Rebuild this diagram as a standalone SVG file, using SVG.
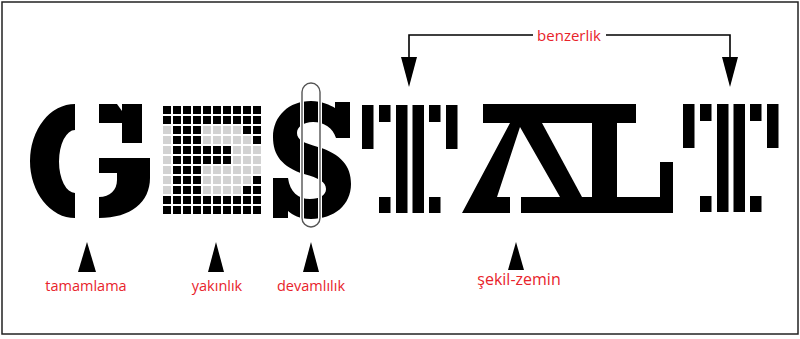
<svg xmlns="http://www.w3.org/2000/svg" xmlns:xlink="http://www.w3.org/1999/xlink" width="800" height="339" viewBox="0 0 800 339">
<style>
.lbl{font-family:"Open Sans","Liberation Sans",sans-serif;font-size:14.5px;fill:#e8232b;text-anchor:middle}
.blk{fill:#000}
.wht{fill:#fff}
.ln{fill:none;stroke:#000;stroke-width:1.6}
</style>
<defs>
<pattern id="pg" patternUnits="userSpaceOnUse" x="163" y="106" width="10" height="10"><rect width="8" height="8" fill="#d2d2d2"/></pattern>
<pattern id="pk" patternUnits="userSpaceOnUse" x="163" y="106" width="10" height="10"><rect width="8" height="8" fill="#000"/></pattern>
<g id="tShape">
<rect x="0" y="0" width="11.5" height="44"/>
<rect x="17" y="0" width="11.5" height="17"/>
<rect x="17" y="92" width="11.5" height="16"/>
<rect x="34" y="0" width="11.5" height="108"/>
<rect x="50.5" y="0" width="11.5" height="108"/>
<rect x="67" y="0" width="11.5" height="17"/>
<rect x="67" y="92" width="11.5" height="16"/>
<rect x="84" y="0" width="11.5" height="44"/>
</g>
</defs>
<rect x="2" y="2" width="796" height="332" fill="#fff" stroke="#222" stroke-width="1.5"/>

<g id="letter-G" class="blk">
<path d="M75,104 A45,57 0 0 0 75,218 V193 A16,31.5 0 0 1 75,130 Z"/>
<path d="M99,104 H142 V143 H122 V123 H99 Z"/>
<path d="M117,104 L122,104 L122,111 Z" class="wht"/>
<path d="M99,158 H150 V178 C150,202 131,218 99,218 V197 C110,197 117,190 117,180 V173 H99 Z"/>
</g>

<g id="letter-E">
<rect x="163" y="106" width="100" height="110" fill="url(#pg)"/>
<g fill="url(#pk)">
<rect x="163" y="106" width="100" height="20"/>
<rect x="163" y="196" width="100" height="20"/>
<rect x="173" y="126" width="30" height="70"/>
<rect x="203" y="146" width="30" height="20"/>
<rect x="243" y="126" width="20" height="10"/>
<rect x="253" y="136" width="10" height="10"/>
<rect x="253" y="176" width="10" height="10"/>
<rect x="243" y="186" width="20" height="10"/>
</g>
</g>

<g id="letter-S">
<path class="blk" d="M335,102 H350 V138 H336 C333,128 324,122 313,122 C303,122 297,127 297,133 C297,140 304,143 318,147 C341,154 351,166 351,184 C351,205 334,219 311,219 C299,219 293,215 288,211 V218 H273 V178 H288 C290,192 298,199 310,199 C320,199 326,195 326,189 C326,182 319,178 304,174 C282,167 273,155 273,137 C273,116 289,101 311,101 C322,101 330,105 335,108 Z"/>
<rect x="302" y="83" width="18" height="144" rx="9" fill="none" stroke="#fff" stroke-width="4"/>
<rect x="302" y="83" width="18" height="144" rx="9" fill="none" stroke="#555" stroke-width="1.4"/>
</g>

<g id="letter-T1" class="blk">
<use xlink:href="#tShape" transform="translate(362,105)"/>
</g>

<g id="letter-AL">
<path class="blk" d="M483,104 H636 V123 H617 V197 H660 V162 H673 V213 H462 L510,123 H483 Z"/>
<path class="wht" d="M520,127 L560,197 H521 V213 H510 V197 H497 Z"/>
<path class="wht" d="M542,123 H592 V197 H582 Z"/>
</g>

<g id="letter-T2" class="blk">
<use xlink:href="#tShape" transform="translate(683,104)"/>
</g>

<g id="connectors">
<path class="ln" d="M409,60 V35 H533"/>
<path class="ln" d="M606,35 H730 V60"/>
<polygon class="blk" points="401,57 417,57 409,87"/>
<polygon class="blk" points="722,57 738,57 730,87"/>
<polygon class="blk" points="78,272 96,272 87,242"/>
<polygon class="blk" points="208,272 224,272 216,242"/>
<polygon class="blk" points="303,272 319,272 311,242"/>
<polygon class="blk" points="508,270 524,270 516,242"/>
</g>

<g id="labels">
<text class="lbl" x="569" y="41" style="font-size:15px">benzerlik</text>
<text class="lbl" x="86" y="291">tamamlama</text>
<text class="lbl" x="217" y="291">yakınlık</text>
<text class="lbl" x="311" y="291">devamlılık</text>
<text class="lbl" x="519" y="285" style="font-size:16px">şekil-zemin</text>
</g>
</svg>
